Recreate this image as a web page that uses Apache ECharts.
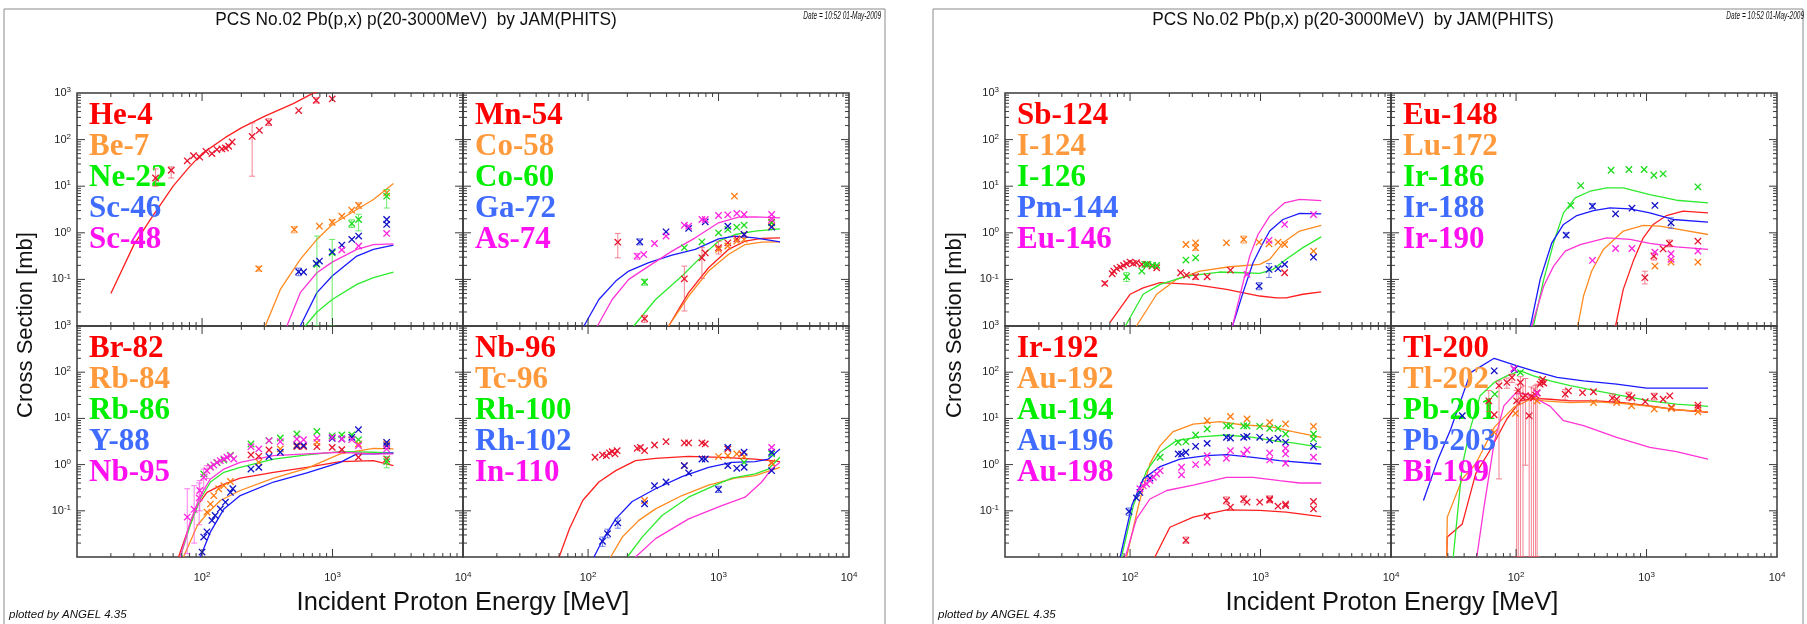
<!DOCTYPE html>
<html>
<head>
<meta charset="utf-8">
<title>PCS No.02 Pb(p,x)</title>
<script src="https://cdn.jsdelivr.net/npm/echarts@6/dist/echarts.min.js"></script>
<style>
  html, body { margin: 0; padding: 0; background: #fff; }
  #chart { width: 1807px; height: 624px; }
</style>
</head>
<body>
<div id="chart"></div>
<script>
// ---- text ----
const pageTitle = 'PCS No.02 Pb(p,x) p(20-3000MeV)  by JAM(PHITS)';
const dateText = 'Date = 10:52 01-May-2009';
const plottedBy = 'plotted by ANGEL 4.35';
const xTitle = 'Incident Proton Energy [MeV]';
const yTitle = 'Cross Section [mb]';

// ---- axes: log ranges and tick values ----
const X_MIN = 11, X_MAX = 10000, Y_MIN = 0.01, Y_MAX = 1000;
const xMajorTicks = [100, 1000];
const yMajorTicks = [0.1, 1, 10, 100];
const xDecades = [10, 100, 1000];
const yDecades = [0.01, 0.1, 1, 10, 100];
const minorMantissa = [2, 3, 4, 5, 6, 7, 8, 9];

// ---- calculation (lines) and experiment (x marks: [E, sigma, errLo, errHi]) ----
// panel 1
const he4Calc = [[20,0.05],[30,0.55],[40,1.9],[60,10],[80,26],[100,50],[150,110],[200,178],[300,316],[500,590],[700,970],[1000,1400],[2000,2500],[3000,3000]];
const be7Calc = [[305,0.01],[398,0.061],[566,0.268],[759,0.72],[994,1.51],[1535,3.16],[2060,5.2],[2930,11.4]];
const ne22Calc = [[617,0.01],[760,0.02],[994,0.037],[1535,0.078],[2060,0.109],[2930,0.144]];
const sc46Calc = [[566,0.01],[759,0.052],[994,0.118],[1535,0.316],[2060,0.44],[2930,0.545]];
const sc48Calc = [[447,0.01],[566,0.052],[759,0.139],[994,0.235],[1535,0.44],[2060,0.56],[2930,0.58]];
const he4Exp = [[44,15,10,23.5],[58,22,15,26],[77,35],[86,45],[96,42],[107,56],[119,50],[130,61],[142,63],[151,66],[160,72],[170,89],[242,117,16.4,228],[275,158],[324,236,200,280],[550,420],[750,700,610,790],[994,745]];
const be7Exp = [[272,0.17,0.15,0.19],[509,1.18,1.0,1.35],[794,1.39],[994,1.69,1.45,1.9],[1178,2.27],[1405,3.06],[1585,3.86,3.3,4.4],[2600,7.2]];
const ne22Exp = [[759,0.21,0.01,0.85],[994,0.37,0.01,0.72],[1405,1.58,1.3,1.9],[1585,1.93,1.1,2.5],[2600,6.1,3.4,8.5]];
const sc46Exp = [[550,0.146,0.12,0.175],[600,0.144],[750,0.22],[794,0.247],[994,0.39],[1178,0.545],[1405,0.72],[1585,0.85],[2600,1.93],[2600,1.51]];
const sc48Exp = [[1178,0.43],[1585,0.52],[2600,0.97]];
// panel 2
const mn54Calc = [[415,0.01],[590,0.052],[839,0.178],[1191,0.44],[1598,0.66],[2143,0.757],[2958,0.78]];
const co58Calc = [[415,0.01],[590,0.044],[839,0.151],[1191,0.343],[1598,0.56],[2143,0.63],[2958,0.64]];
const co60Calc = [[224,0.01],[329,0.037],[525,0.118],[746,0.316],[1000,0.66],[1340,0.92],[1905,1.09],[2958,1.22]];
const ga72Calc = [[93,0.01],[121,0.037],[163,0.092],[205,0.151],[292,0.228],[440,0.33],[663,0.44],[1000,0.74],[1340,0.85],[1905,0.78],[2958,0.64]];
const as74Calc = [[118,0.01],[153,0.037],[205,0.1],[292,0.193],[440,0.405],[663,0.78],[1000,1.64],[1422,2.17],[1905,2.2],[2958,2.1]];
const mn54Exp = [[169,0.63,0.29,0.97],[271,0.0144,0.012,0.017],[547,0.103,0.021,0.193],[746,0.29,0.105,0.48],[791,0.37],[1000,0.48,0.35,0.66],[1178,0.61],[1380,0.74],[1570,0.92],[2553,1.69]];
const co58Exp = [[1325,6.1],[1000,0.44],[1178,0.52],[1380,0.66],[1570,0.72],[2553,1.39]];
const co60Exp = [[271,0.088,0.075,0.1],[547,0.48],[746,0.64],[1000,1.0],[1178,1.18],[1380,1.32],[1570,1.46],[2553,1.64]];
const ga72Exp = [[249,0.64,0.55,0.74],[396,1.05],[590,1.24],[791,1.72],[1178,1.39],[1570,0.92],[2553,1.32]];
const as74Exp = [[238,0.316,0.27,0.36],[267,0.343],[323,0.59],[396,0.85],[547,1.46],[590,1.39],[746,1.93],[791,1.93],[1000,2.35],[1178,2.43],[1380,2.6],[1570,2.47],[2553,2.47],[2553,1.93]];
// panel 3
const br82Calc = [[66,0.01],[77,0.035],[92,0.13],[109,0.25],[138,0.35],[196,0.51],[353,0.68],[636,0.875],[1146,1.16],[2060,1.22],[2930,0.95]];
const rb84Calc = [[72,0.01],[92,0.048],[109,0.086],[138,0.167],[196,0.275],[353,0.51],[636,0.83],[1146,1.7],[2060,2.25],[2930,2.18]];
const rb86Calc = [[68,0.01],[81,0.048],[97,0.18],[116,0.42],[147,0.68],[196,0.875],[353,1.32],[636,1.62],[1146,1.91],[2060,1.85],[2930,1.76]];
const y88Calc = [[97,0.01],[116,0.035],[147,0.11],[196,0.214],[353,0.42],[636,0.66],[1146,1.12],[1535,1.7],[2060,1.7],[2930,1.79]];
const nb95Calc = [[68,0.01],[81,0.057],[97,0.214],[116,0.49],[147,0.8],[196,1.12],[353,1.56],[636,1.7],[1146,1.85],[2060,1.7],[2930,1.7]];
const br82Exp = [[237,1.62],[272,1.51],[326,2.07],[533,2.44],[600,2.44],[759,2.44],[994,2.36],[1178,2.11],[1580,1.44],[2600,1.32]];
const rb84Exp = [[109,0.094],[116,0.14],[123,0.214],[134,0.3],[147,0.35],[165,0.43],[272,1.12],[398,2.18],[533,2.66],[759,3.03],[1580,2.79],[2600,2.79]];
const rb86Exp = [[103,0.63],[116,0.9],[130,1.1],[147,1.25],[165,1.6],[237,2.79],[326,3.3],[398,3.77],[533,4.6],[759,5.2],[994,4.2],[1178,4.4],[1405,4.4],[1580,3.47],[2600,1.16,0.85,1.5]];
const y88Exp = [[100,0.0128],[103,0.027],[109,0.035],[119,0.062],[126,0.079],[138,0.11],[151,0.154],[165,0.25],[172,0.3],[237,0.8],[272,0.875],[326,1.49],[398,1.85],[533,2.57],[600,2.6],[994,3.7],[1178,3.6],[1405,3.89],[1580,5.7],[2600,3.03],[2600,2.57]];
const nb95Exp = [[77,0.073,0.0118,0.3],[87,0.107,0.02,0.35],[95,0.19,0.05,0.4],[96,0.275,0.1,0.45],[103,0.53,0.3,0.8],[109,0.74,0.5,0.95],[116,0.875],[123,0.98],[130,1.12],[138,1.22],[147,1.32],[155,1.44],[165,1.56],[175,1.32],[237,2.44],[272,2.18],[326,3.3],[398,3.13],[533,3.58],[600,3.47],[759,3.7],[994,3.89],[1178,3.58],[1405,3.47],[1580,2.57],[2600,2.18]];
// panel 4
const nb96Calc = [[60,0.01],[72,0.041],[91,0.167],[121,0.42],[163,0.74],[231,1.22],[329,1.37],[590,1.51],[1059,1.44],[1905,1.32],[2958,1.16]];
const tc96Calc = [[149,0.01],[183,0.027],[245,0.062],[329,0.11],[525,0.214],[839,0.36],[1340,0.51],[1905,0.58],[2958,0.875]];
const rh100Calc = [[200,0.01],[260,0.027],[369,0.079],[590,0.197],[944,0.36],[1265,0.51],[1905,0.63],[2410,0.8],[2958,1.44]];
const rh102Calc = [[111,0.01],[129,0.023],[163,0.067],[218,0.159],[329,0.3],[525,0.55],[839,0.875],[1265,1.12],[1905,1.16],[2410,1.32],[2958,2.18]];
const in110Calc = [[231,0.01],[329,0.025],[590,0.067],[1059,0.13],[1598,0.197],[2143,0.42],[2553,0.8],[2958,1.12]];
const nb96Exp = [[113,1.44],[129,1.62],[138,1.56],[146,1.79],[153,1.91],[161,1.7],[167,2.0],[238,2.25],[252,2.36],[271,2.0],[323,2.66],[396,3.13],[547,2.94],[590,2.94],[746,2.94],[791,2.8],[1178,2.18],[1507,1.7],[2553,1.09]];
const tc96Exp = [[271,0.167],[547,0.95],[1000,1.49],[1178,1.56],[1380,1.7],[1570,1.49],[2553,1.09]];
const rh100Exp = [[1570,1.12],[2553,1.7]];
const rh102Exp = [[129,0.0218,0.017,0.027],[141,0.032,0.026,0.04],[169,0.055,0.042,0.07],[271,0.142],[323,0.35],[396,0.42],[547,0.95],[590,0.66],[746,1.32],[791,1.32],[1000,0.29,0.25,0.34],[1178,2.36],[1178,0.95],[1380,0.83],[1570,1.85],[1570,0.875],[2553,1.85],[2553,0.74]];
const in110Exp = [[2553,2.36]];
// panel 5
const sb124Calc = [[70,0.0118],[100,0.048],[126,0.066],[170,0.085],[305,0.078],[548,0.061],[986,0.044],[1321,0.04],[1574,0.04],[2113,0.048],[2918,0.054]];
const i124Calc = [[112,0.01],[160,0.048],[227,0.1],[343,0.151],[581,0.187],[986,0.21],[1175,0.27],[1486,0.61],[1991,1.09],[2918,1.44]];
const i126Calc = [[92,0.01],[126,0.048],[170,0.078],[271,0.118],[487,0.144],[734,0.139],[986,0.135],[1247,0.164],[1574,0.27],[2113,0.48],[2918,0.82]];
const pm144Calc = [[610,0.01],[734,0.052],[876,0.228],[1015,0.52],[1175,1.09],[1486,1.93],[1991,2.6],[2918,2.55]];
const eu146Calc = [[610,0.01],[714,0.061],[826,0.316],[957,0.92],[1175,2.28],[1530,4.4],[1991,5.2],[2918,4.9]];
const sb124Exp = [[64,0.082,0.075,0.09],[73,0.132],[75,0.151],[79,0.172],[84,0.184],[89,0.2],[94,0.217],[100,0.235],[106,0.22],[112,0.228],[123,0.21],[134,0.21],[147,0.193],[160,0.178],[244,0.139],[271,0.124],[318,0.114,0.1,0.13],[390,0.114],[588,0.158],[1530,0.139]];
const i124Exp = [[268,0.56],[318,0.48,0.42,0.55],[318,0.61],[548,0.61],[743,0.72,0.6,0.85],[975,0.63],[1162,0.58],[1361,0.63],[1530,0.56],[2547,0.405]];
const i126Exp = [[94,0.114,0.09,0.14],[123,0.151],[130,0.21],[137,0.21],[149,0.2],[160,0.2],[268,0.26],[318,0.29]];
const pm144Exp = [[975,0.072,0.06,0.085],[1162,0.164,0.11,0.22],[1361,0.17],[1530,0.21],[2547,0.3]];
const eu146Exp = [[788,0.128],[1162,0.69],[1530,1.51],[2547,2.47]];
// panel 6
const eu148Calc = [[579,0.01],[663,0.061],[791,0.247],[944,0.78],[1125,1.51],[1422,2.35],[1905,2.91],[2958,2.68]];
const lu172Calc = [[297,0.01],[329,0.044],[380,0.151],[467,0.44],[663,1.09],[944,1.44],[1265,1.39],[1905,1.14],[2958,0.92]];
const ir186Calc = [[136,0.01],[163,0.1],[194,0.61],[231,2.68],[284,5.6],[369,7.8],[495,9.2],[663,9.2],[1059,6.6],[1694,5.0],[2958,4.4]];
const ir188Calc = [[129,0.01],[153,0.1],[188,0.61],[231,1.51],[292,2.35],[392,3.0],[525,3.43],[746,3.27],[1059,2.68],[1598,1.93],[2958,1.69]];
const ir190Calc = [[132,0.01],[163,0.072],[194,0.193],[238,0.405],[310,0.56],[495,0.78],[746,0.72],[1059,0.59],[1694,0.5],[2958,0.44]];
const eu148Exp = [[971,0.109,0.08,0.15],[1138,0.316,0.26,0.37],[1340,0.45],[1500,0.59,0.5,0.7],[2477,0.66]];
const lu172Exp = [[1159,0.193],[1541,0.235],[2477,0.235]];
const ir186Exp = [[263,3.86],[313,10.3],[535,22],[733,22.8],[959,22.8],[1138,17.2],[1340,18.4],[2477,9.7]];
const ir188Exp = [[242,0.89,0.8,1.0],[385,3.73,3.3,4.2],[579,2.55],[773,3.38],[1159,3.86],[1541,1.64,1.25,2.1]];
const ir190Exp = [[385,0.255],[579,0.46],[773,0.46],[1159,0.385],[1541,0.355],[1541,0.27],[2477,0.405]];
// panel 7
const ir192Calc = [[155,0.01],[202,0.044],[305,0.073],[548,0.105],[986,0.102],[1574,0.094],[2918,0.075]];
const au192Calc = [[94,0.01],[116,0.13],[142,1.05],[170,2.57],[214,5.2],[305,7.5],[487,8.5],[734,7.2],[1175,6.7],[1770,5.2],[2918,3.9]];
const au194Calc = [[86,0.01],[106,0.13],[134,0.74],[170,1.85],[227,3.3],[343,4.0],[548,4.37],[876,3.9],[1400,3.13],[1770,2.94],[2918,2.37]];
const au196Calc = [[84,0.01],[103,0.13],[126,0.49],[170,0.905],[241,1.32],[385,1.56],[548,1.64],[876,1.44],[1400,1.22],[2918,1.03]];
const au198Calc = [[92,0.01],[112,0.067],[142,0.18],[191,0.275],[305,0.36],[548,0.53],[876,0.53],[1400,0.45],[1991,0.4],[2918,0.4]];
const ir192Exp = [[268,0.023,0.02,0.027],[390,0.077],[548,0.167,0.14,0.2],[588,0.12],[743,0.18,0.15,0.21],[788,0.154],[986,0.154],[1175,0.18,0.15,0.21],[1175,0.17],[1361,0.126],[1556,0.13],[1556,0.14],[2547,0.159],[2547,0.11]];
const au192Exp = [[390,8.9],[588,11],[788,9.7],[1175,8.2],[1556,7.6],[2547,6.7]];
const au194Exp = [[170,1.44],[234,3.03],[268,3.13],[318,4.37],[390,5.9],[548,6.9],[588,6.9],[743,6.9],[788,6.9],[986,6.7],[1175,6.1],[1361,6.1],[1556,4.6],[2547,4.6],[2547,3.6]];
const au196Exp = [[98,0.097,0.08,0.115],[112,0.19],[119,0.25],[142,0.51],[234,1.7],[248,1.68],[268,1.85],[318,2.49],[390,2.88],[548,3.89],[588,3.77],[743,3.89],[788,4.1],[986,3.89],[1175,3.4],[1361,3.7],[1556,3.03],[2547,2.49]];
const au198Exp = [[119,0.3],[126,0.35],[134,0.38],[142,0.45],[151,0.53],[160,0.63],[170,0.74],[248,0.875],[248,0.6],[318,1.0],[390,1.56],[390,1.12],[548,1.37],[588,2.0],[743,1.7],[788,2.07],[1175,1.79],[1175,1.26],[1556,2.25],[1556,1.7],[1556,1.07],[2547,1.44]];
// panel 8
const tl200Calc = [[29.4,0.01],[29.7,0.027],[38.7,0.052],[49,0.63],[64,2.18],[85,9.7],[108,24],[136,27],[183,26],[260,24],[415,24],[663,22],[1059,18.7],[1694,15.4],[2958,13.5]];
const tl202Calc = [[29.4,0.01],[29.7,0.073],[38.7,0.49],[49,1.03],[68,6.4],[96,17.3],[129,26],[163,24],[260,22],[415,22.9],[663,21],[1059,18.2],[1694,15.4],[2958,13.9]];
const pb201Calc = [[33,0.01],[38.7,0.95],[44.8,6.4],[53,30.8],[68,60],[85,83],[108,107],[136,83],[183,65],[260,51],[415,39.5],[663,30.8],[1059,24],[1694,20.4],[2958,18.2]];
const pb203Calc = [[19.5,0.167],[25,1.22],[31.6,5.9],[44.8,98],[68,200],[102,137],[136,107],[206,77],[329,65],[590,55],[1000,45],[1694,45],[2958,45]];
const bi199Calc = [[50,0.01],[57,0.13],[68,3.03],[80.6,18.7],[99,35],[121,33.5],[145,26],[183,18.2],[231,8.9],[329,6.95],[590,3.9],[1059,2.37],[1694,1.91],[2958,1.32]];
const tl200Exp = [[61.8,24,14,40],[68,12],[74,51,0.49,65],[85,60,45,75],[93,77,60,90],[101,24,0.01,40],[104,40,0.01,55],[108,60,0.01,80],[113,28,0.01,50],[118,31,0.97,73],[126,11.4,0.01,30],[131,30,0.01,48],[136,28,0.01,45],[141,32,0.01,52],[145,36,0.01,55],[153,55],[157,62],[160,70],[163,58],[238,33.5,25,42],[252,39.5],[323,36],[392,37.7],[547,27.5,22,34],[590,26],[733,30.8,25,37],[773,28],[977,23],[1146,29.9,25,35],[1340,26],[1507,30.8],[1553,17.3],[2477,19.4],[2477,17]];
const tl202Exp = [[68,5.0],[99,12.8],[145,24],[392,22],[590,22],[768,18.7],[1146,15.9],[1553,16.4],[2477,13.9]];
const pb201Exp = [[68.7,33.5],[108,98]];
const pb203Exp = [[38.7,11.4],[68,107],[97,116]];
const bi199Exp = [[96,120],[145,35]];

// ---- panel setup ----
const panelNames = [
  ['He-4', 'Be-7', 'Ne-22', 'Sc-46', 'Sc-48'],
  ['Mn-54', 'Co-58', 'Co-60', 'Ga-72', 'As-74'],
  ['Br-82', 'Rb-84', 'Rb-86', 'Y-88', 'Nb-95'],
  ['Nb-96', 'Tc-96', 'Rh-100', 'Rh-102', 'In-110'],
  ['Sb-124', 'I-124', 'I-126', 'Pm-144', 'Eu-146'],
  ['Eu-148', 'Lu-172', 'Ir-186', 'Ir-188', 'Ir-190'],
  ['Ir-192', 'Au-192', 'Au-194', 'Au-196', 'Au-198'],
  ['Tl-200', 'Tl-202', 'Pb-201', 'Pb-203', 'Bi-199']
];
const panelCalc = [
  [he4Calc, be7Calc, ne22Calc, sc46Calc, sc48Calc],
  [mn54Calc, co58Calc, co60Calc, ga72Calc, as74Calc],
  [br82Calc, rb84Calc, rb86Calc, y88Calc, nb95Calc],
  [nb96Calc, tc96Calc, rh100Calc, rh102Calc, in110Calc],
  [sb124Calc, i124Calc, i126Calc, pm144Calc, eu146Calc],
  [eu148Calc, lu172Calc, ir186Calc, ir188Calc, ir190Calc],
  [ir192Calc, au192Calc, au194Calc, au196Calc, au198Calc],
  [tl200Calc, tl202Calc, pb201Calc, pb203Calc, bi199Calc]
];
const panelExp = [
  [he4Exp, be7Exp, ne22Exp, sc46Exp, sc48Exp],
  [mn54Exp, co58Exp, co60Exp, ga72Exp, as74Exp],
  [br82Exp, rb84Exp, rb86Exp, y88Exp, nb95Exp],
  [nb96Exp, tc96Exp, rh100Exp, rh102Exp, in110Exp],
  [sb124Exp, i124Exp, i126Exp, pm144Exp, eu146Exp],
  [eu148Exp, lu172Exp, ir186Exp, ir188Exp, ir190Exp],
  [ir192Exp, au192Exp, au194Exp, au196Exp, au198Exp],
  [tl200Exp, tl202Exp, pb201Exp, pb203Exp, bi199Exp]
];

const lineColors = ['#ff1f1f', '#ff8a1f', '#2eea2e', '#1a1aff', '#ff33d6'];
const markColors = ['#e8142e', '#ff7a10', '#1cdc1c', '#1010c8', '#ff22e0'];
const barColors = ['rgba(240,90,110,0.75)', 'rgba(255,150,70,0.75)', 'rgba(60,230,60,0.75)', 'rgba(70,90,230,0.75)', 'rgba(255,80,230,0.75)'];
const legendColors = ['#ff0000', '#ff9a3c', '#00ee00', '#3f6cff', '#ff10f0'];

// panel boxes in px: [left, top, width, height] for one page, second page shifted
const boxes = [[77, 93, 386, 233], [463, 93, 386, 233], [77, 326, 386, 231], [463, 326, 386, 231]];
const PAGE_DX = 928;
const FRAME_COLOR = '#3a3a3a';
const SANS = '"Liberation Sans", Arial, sans-serif';
const SERIF = '"Liberation Serif", "Times New Roman", serif';

function box(p) {
  const b = boxes[p % 4];
  return [b[0] + (p >= 4 ? PAGE_DX : 0), b[1], b[2], b[3]];
}

function powLabel(v, hide) {
  const l = Math.log10(v);
  const e = Math.round(l);
  if (Math.abs(l - e) > 1e-6 || hide.indexOf(e) >= 0) return '';
  return '10{e|' + e + '}';
}

const labelRich = { e: { fontSize: 8, verticalAlign: 'top', lineHeight: 9, fontFamily: SANS, color: '#222' } };

// tick marks on all four sides, minor ticks at 2..9 per decade
const tickData = [];
xDecades.forEach(d => minorMantissa.forEach(m => {
  const v = m * d;
  if (v > X_MIN && v < X_MAX) tickData.push([v, Y_MIN, 0, 4]);
}));
xMajorTicks.forEach(v => tickData.push([v, Y_MIN, 0, 8]));
yDecades.forEach(d => minorMantissa.forEach(m => {
  const v = m * d;
  if (v > Y_MIN && v < Y_MAX) tickData.push([X_MIN, v, 1, 4]);
}));
yMajorTicks.forEach(v => tickData.push([X_MIN, v, 1, 8]));

function tickRenderer(params, api) {
  const kind = api.value(2), len = api.value(3);
  const st = { stroke: FRAME_COLOR, lineWidth: 1 };
  if (kind === 0) {
    const v = api.value(0);
    const b = api.coord([v, Y_MIN]), t = api.coord([v, Y_MAX]);
    return { type: 'group', children: [
      { type: 'line', shape: { x1: b[0], y1: b[1], x2: b[0], y2: b[1] - len }, style: st },
      { type: 'line', shape: { x1: t[0], y1: t[1], x2: t[0], y2: t[1] + len }, style: st }
    ] };
  }
  const v = api.value(1);
  const l = api.coord([X_MIN, v]), r = api.coord([X_MAX, v]);
  return { type: 'group', children: [
    { type: 'line', shape: { x1: l[0], y1: l[1], x2: l[0] + len, y2: l[1] }, style: st },
    { type: 'line', shape: { x1: r[0], y1: r[1], x2: r[0] - len, y2: r[1] }, style: st }
  ] };
}

function expRenderer(mark, bar) {
  return function (params, api) {
    const x = api.value(0);
    const p = api.coord([x, api.value(1)]);
    const s = 3.2;
    const children = [];
    const lo = api.value(2), hi = api.value(3);
    if (lo > 0 && hi > 0) {
      const a = api.coord([x, lo]), b = api.coord([x, hi]);
      const bs = { stroke: bar, lineWidth: 1 };
      children.push({ type: 'line', shape: { x1: a[0], y1: a[1], x2: b[0], y2: b[1] }, style: bs });
      children.push({ type: 'line', shape: { x1: a[0] - 3, y1: a[1], x2: a[0] + 3, y2: a[1] }, style: bs });
      children.push({ type: 'line', shape: { x1: b[0] - 3, y1: b[1], x2: b[0] + 3, y2: b[1] }, style: bs });
    }
    const ms = { stroke: mark, lineWidth: 1.3 };
    children.push({ type: 'line', shape: { x1: p[0] - s, y1: p[1] - s, x2: p[0] + s, y2: p[1] + s }, style: ms });
    children.push({ type: 'line', shape: { x1: p[0] - s, y1: p[1] + s, x2: p[0] + s, y2: p[1] - s }, style: ms });
    return { type: 'group', children: children };
  };
}

const grids = [], xAxes = [], yAxes = [], legends = [], series = [];
for (let p = 0; p < 8; p++) {
  const [left, top, width, height] = box(p);
  const isBottom = (p % 4) >= 2;
  const isLeft = (p % 2) === 0;
  grids.push({ left, top, width, height, show: true, borderColor: FRAME_COLOR, borderWidth: 1.5,
    backgroundColor: 'transparent', containLabel: false, outerBoundsMode: 'none' });
  xAxes.push({ type: 'log', logBase: 10, gridIndex: p, min: X_MIN, max: X_MAX,
    axisLine: { show: false }, axisTick: { show: false }, splitLine: { show: false }, minorTick: { show: false },
    axisLabel: { show: isBottom, showMinLabel: true, showMaxLabel: true, margin: 14, fontSize: 11, color: '#222',
      fontFamily: SANS, lineHeight: 14, formatter: v => powLabel(v, [1]), rich: labelRich } });
  yAxes.push({ type: 'log', logBase: 10, gridIndex: p, min: Y_MIN, max: Y_MAX,
    axisLine: { show: false }, axisTick: { show: false }, splitLine: { show: false }, minorTick: { show: false },
    axisLabel: { show: isLeft, showMinLabel: true, showMaxLabel: true, margin: 6, fontSize: 11, color: '#222',
      fontFamily: SANS, lineHeight: 14, formatter: v => powLabel(v, [-2]), rich: labelRich } });
  legends.push({ orient: 'vertical', left: left + 7, top: top + 7, padding: 0, itemGap: 0,
    itemWidth: 0, itemHeight: 26, icon: 'none', selectedMode: false,
    textStyle: { fontFamily: SERIF, fontWeight: 'bold', fontSize: 31, lineHeight: 26 },
    data: panelNames[p].map((n, i) => ({ name: n, textStyle: { color: legendColors[i] } })) });
  panelCalc[p].forEach((arr, i) => series.push({
    type: 'line', name: panelNames[p][i], xAxisIndex: p, yAxisIndex: p, data: arr,
    showSymbol: false, symbol: 'none', clip: true, silent: true, z: 3,
    lineStyle: { color: lineColors[i], width: 1.3 }, itemStyle: { color: lineColors[i] } }));
  panelExp[p].forEach((arr, i) => series.push({
    type: 'custom', name: panelNames[p][i], xAxisIndex: p, yAxisIndex: p, clip: true, silent: true, z: 4,
    encode: { x: 0, y: 1 }, itemStyle: { color: markColors[i] },
    data: arr.map(d => [d[0], d[1], d[2] || 0, d[3] || 0]),
    renderItem: expRenderer(markColors[i], barColors[i]) }));
  series.push({ type: 'custom', xAxisIndex: p, yAxisIndex: p, clip: false, silent: true, z: 5,
    encode: { x: 0, y: 1 }, data: tickData, renderItem: tickRenderer });
}

// page decorations: frames, titles, axis names
function label(text, x, y, font, align, extra) {
  return Object.assign({ type: 'text', x, y, silent: true,
    style: { text, font, fill: '#111', align, verticalAlign: 'middle', textAlign: align, textVerticalAlign: 'middle' } }, extra || {});
}
const pages = [
  { dx: 0, frameW: 881, titleX: 416, dateX: 881 },
  { dx: PAGE_DX + 1, frameW: 870, titleX: 424, dateX: 875 }
];
const graphics = [];
pages.forEach(pg => {
  const dx = pg.dx;
  graphics.push({ type: 'rect', shape: { x: 4 + dx, y: 9, width: pg.frameW, height: 640 },
    style: { fill: 'none', stroke: '#8a8a8a', lineWidth: 1 }, silent: true });
  graphics.push(label(pageTitle, pg.titleX + dx, 20, '19px ' + SANS, 'center', { scaleX: 0.91 }));
  graphics.push(label(dateText, pg.dateX + dx, 16, 'italic 10.5px ' + SANS, 'right', { scaleX: 0.62 }));
  graphics.push(label(xTitle, 463 + dx, 603, '26px ' + SANS, 'center', { scaleX: 0.98 }));
  graphics.push(label(yTitle, 26 + dx, 325, '22px ' + SANS, 'center', { rotation: Math.PI / 2 }));
  graphics.push(label(plottedBy, 9 + dx, 615, 'italic 11.5px ' + SANS, 'left'));
});

const chart = echarts.init(document.getElementById('chart'), null, { renderer: 'canvas' });
chart.setOption({
  animation: false,
  backgroundColor: '#fff',
  grid: grids,
  xAxis: xAxes,
  yAxis: yAxes,
  legend: legends,
  series: series,
  graphic: graphics
});
</script>
</body>
</html>
